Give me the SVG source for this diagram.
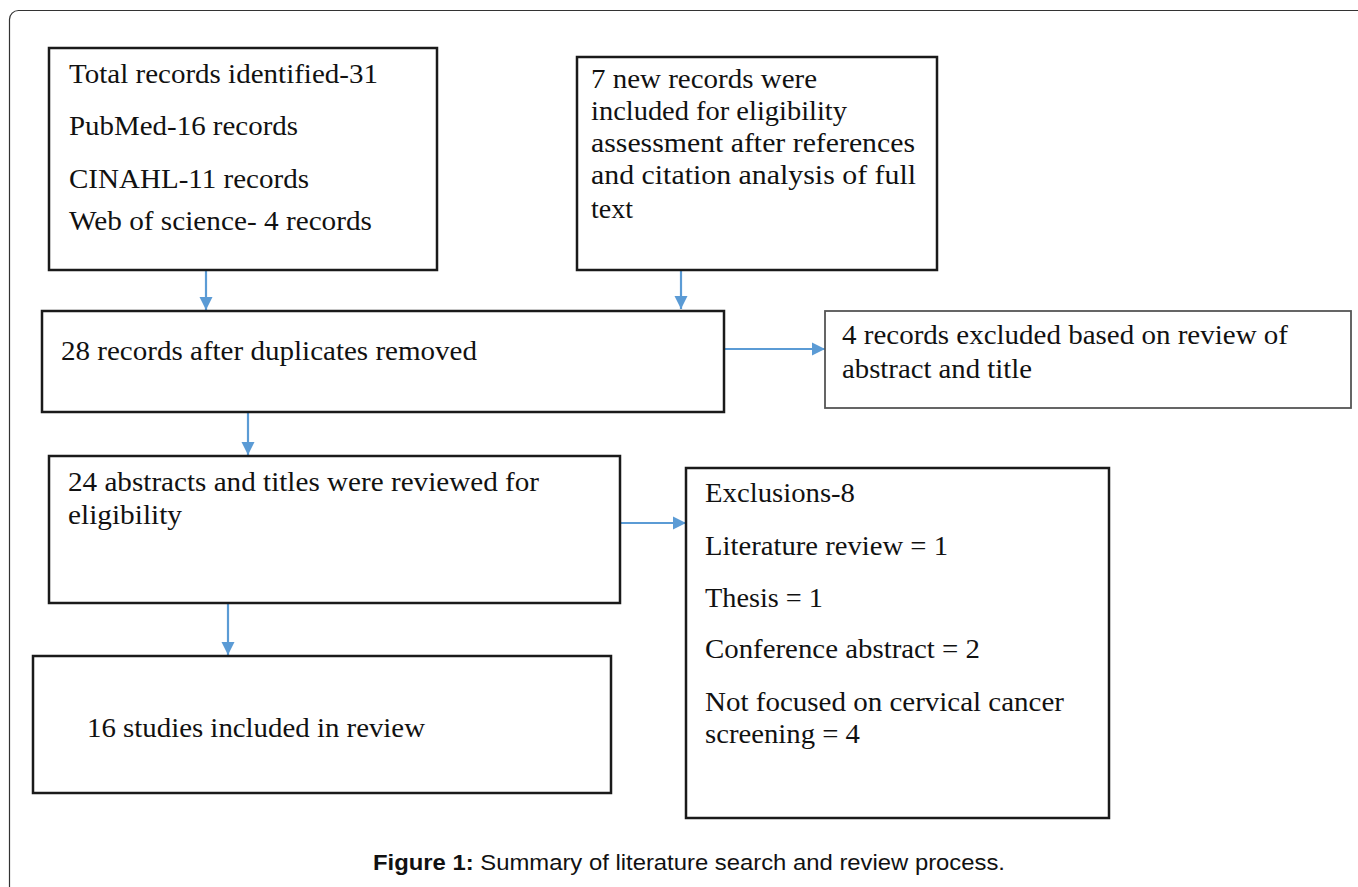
<svg xmlns="http://www.w3.org/2000/svg" width="1358" height="887" viewBox="0 0 1358 887">
<style>
.box{fill:#fff;stroke:#1a1a1a;stroke-width:2.5}
.boxg{fill:#fff;stroke:#555;stroke-width:1.8}
.t{font-family:"Liberation Serif","Times New Roman",serif;font-size:27.5px;fill:#111}
.cap{font-family:"Liberation Sans",Arial,sans-serif;font-size:22.5px;fill:#111}
.conn line{stroke:#5b9bd5;stroke-width:2.2;fill:none}
</style>
<defs>
<marker id="ah" viewBox="0 0 10 10" refX="10" refY="5" markerWidth="6" markerHeight="6" markerUnits="strokeWidth" orient="auto">
<path d="M0,0 L10,5 L0,10 Z" fill="#5b9bd5"/>
</marker>
</defs>
<rect width="1358" height="887" fill="#fff"/>
<rect x="9.5" y="10.5" width="1400" height="950" rx="9" ry="9" fill="none" stroke="#333" stroke-width="1.2"/>

<g class="conn">
<line x1="206" y1="271" x2="206" y2="310" marker-end="url(#ah)"/>
<line x1="681" y1="271" x2="681" y2="309" marker-end="url(#ah)"/>
<line x1="725" y1="349" x2="825" y2="349" marker-end="url(#ah)"/>
<line x1="248" y1="413" x2="248" y2="455" marker-end="url(#ah)"/>
<line x1="621" y1="523" x2="686" y2="523" marker-end="url(#ah)"/>
<line x1="228" y1="604" x2="228" y2="655" marker-end="url(#ah)"/>
</g>

<g id="n-total">
<rect class="box" x="49" y="48" width="388" height="222"/>
<text class="t" x="69" y="83" textLength="309" lengthAdjust="spacingAndGlyphs">Total records identified-31</text>
<text class="t" x="69" y="135" textLength="229" lengthAdjust="spacingAndGlyphs">PubMed-16 records</text>
<text class="t" x="69" y="188" textLength="240" lengthAdjust="spacingAndGlyphs">CINAHL-11 records</text>
<text class="t" x="69" y="230" textLength="303" lengthAdjust="spacingAndGlyphs">Web of science- 4 records</text>
</g>

<g id="n-new">
<rect class="box" x="577" y="57" width="360" height="213"/>
<text class="t" x="591" y="88" textLength="226" lengthAdjust="spacingAndGlyphs">7 new records were</text>
<text class="t" x="591" y="120" textLength="256" lengthAdjust="spacingAndGlyphs">included for eligibility</text>
<text class="t" x="591" y="152" textLength="324" lengthAdjust="spacingAndGlyphs">assessment after references</text>
<text class="t" x="591" y="184" textLength="325" lengthAdjust="spacingAndGlyphs">and citation analysis of full</text>
<text class="t" x="591" y="218" textLength="42" lengthAdjust="spacingAndGlyphs">text</text>
</g>

<g id="n-28">
<rect class="box" x="42" y="311" width="682" height="101"/>
<text class="t" x="61" y="360" textLength="416" lengthAdjust="spacingAndGlyphs">28 records after duplicates removed</text>
</g>

<g id="n-excl4">
<rect class="boxg" x="825" y="311" width="526" height="97"/>
<text class="t" x="842" y="344" textLength="446" lengthAdjust="spacingAndGlyphs">4 records excluded based on review of</text>
<text class="t" x="842" y="378" textLength="190" lengthAdjust="spacingAndGlyphs">abstract and title</text>
</g>

<g id="n-24">
<rect class="box" x="49" y="456" width="571" height="147"/>
<text class="t" x="68" y="491" textLength="471" lengthAdjust="spacingAndGlyphs">24 abstracts and titles were reviewed for</text>
<text class="t" x="68" y="524" textLength="114" lengthAdjust="spacingAndGlyphs">eligibility</text>
</g>

<g id="n-excl8">
<rect class="box" x="686" y="468" width="423" height="350"/>
<text class="t" x="705" y="502" textLength="150" lengthAdjust="spacingAndGlyphs">Exclusions-8</text>
<text class="t" x="705" y="555" textLength="243" lengthAdjust="spacingAndGlyphs">Literature review = 1</text>
<text class="t" x="705" y="607" textLength="118" lengthAdjust="spacingAndGlyphs">Thesis = 1</text>
<text class="t" x="705" y="658" textLength="275" lengthAdjust="spacingAndGlyphs">Conference abstract = 2</text>
<text class="t" x="705" y="711" textLength="359" lengthAdjust="spacingAndGlyphs">Not focused on cervical cancer</text>
<text class="t" x="705" y="743" textLength="155" lengthAdjust="spacingAndGlyphs">screening = 4</text>
</g>

<g id="n-16">
<rect class="box" x="33" y="656" width="578" height="137"/>
<text class="t" x="87" y="737" textLength="338" lengthAdjust="spacingAndGlyphs">16 studies included in review</text>
</g>

<text class="cap" x="373" y="870" textLength="632" lengthAdjust="spacingAndGlyphs"><tspan font-weight="bold">Figure 1:</tspan> Summary of literature search and review process.</text>
</svg>
